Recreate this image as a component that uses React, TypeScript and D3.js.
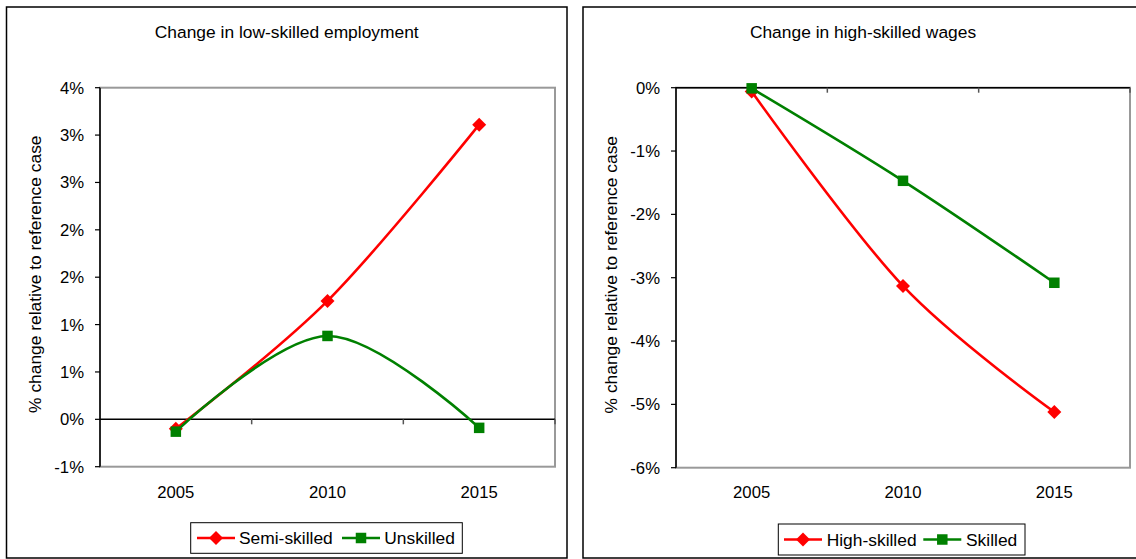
import React from "react";
import * as d3 from "d3";

// Scenario years on the category axis
const years = ["2005", "2010", "2015"];

// Left panel: change in low-skilled employment (% vs reference case)
const semiSkilled = [-0.1, 1.25, 3.11];
const unskilled = [-0.13, 0.88, -0.09];
const lowTicks = [-0.5, 0, 0.5, 1, 1.5, 2, 2.5, 3, 3.5];
const lowTickLabels = ["-1%", "0%", "1%", "1%", "2%", "2%", "3%", "3%", "4%"];

// Right panel: change in high-skilled wages (% vs reference case)
const highSkilled = [-0.06, -3.13, -5.12];
const skilled = [-0.01, -1.47, -3.08];
const wageTicks = [-6, -5, -4, -3, -2, -1, 0];
const wageTickLabels = ["-6%", "-5%", "-4%", "-3%", "-2%", "-1%", "0%"];

const RED = "#ff0000";
const GREEN = "#008000";
const FONT = "'Liberation Sans', Arial, sans-serif";
const FS_TICK = 16.7;
const FS_TEXT = 17.4;
const YLABEL = "% change relative to reference case";

type Series = { name: string; values: number[]; color: string; marker: "diamond" | "square" };

function Marker({ kind, x, y, color }: { kind: string; x: number; y: number; color: string }) {
  if (kind === "diamond") {
    const r = 7;
    return <path d={`M${x},${y - r}L${x + r},${y}L${x},${y + r}L${x - r},${y}Z`} fill={color} />;
  }
  const s = 10.5;
  return <rect x={x - s / 2} y={y - s / 2} width={s} height={s} fill={color} />;
}

function Panel(props: {
  frame: { x: number; y: number; w: number; h: number };
  plot: { x0: number; x1: number; y0: number; y1: number };
  title: string;
  domain: [number, number];
  ticks: number[];
  tickLabels: string[];
  series: Series[];
  legend: { x0: number; x1: number; y0: number; y1: number; items: { lx: number; tx: number }[] };
}) {
  const { frame, plot, title, domain, ticks, tickLabels, series, legend } = props;
  const x = d3.scaleBand<string>().domain(years).range([plot.x0, plot.x1]);
  const y = d3.scaleLinear().domain(domain).range([plot.y1, plot.y0]);
  const cx = (i: number) => (x(years[i]) as number) + x.bandwidth() / 2;
  const line = d3
    .line<number>()
    .x((_, i) => cx(i))
    .y((v) => y(v))
    .curve(d3.curveCatmullRom.alpha(0));
  const zeroY = y(0);
  const bounds = years.slice(1).map((yr) => x(yr) as number).concat([plot.x1]);
  const legY = (legend.y0 + legend.y1) / 2;

  return (
    <g>
      <rect x={frame.x} y={frame.y} width={frame.w} height={frame.h} fill="#fff" stroke="#000" strokeWidth={1.5} />
      <text x={frame.x + frame.w / 2} y={38} textAnchor="middle" fontFamily={FONT} fontSize={FS_TEXT} fill="#000">
        {title}
      </text>
      {/* plot area border */}
      <rect
        x={plot.x0}
        y={plot.y0}
        width={plot.x1 - plot.x0}
        height={plot.y1 - plot.y0}
        fill="#fff"
        stroke="#999"
        strokeWidth={2}
      />
      {/* value axis */}
      <line x1={plot.x0} x2={plot.x0} y1={plot.y0} y2={plot.y1} stroke="#000" strokeWidth={1.5} />
      {ticks.map((t, i) => (
        <g key={t}>
          <line x1={plot.x0 - 5} x2={plot.x0} y1={y(t)} y2={y(t)} stroke="#000" strokeWidth={1.2} />
          <text
            x={plot.x0 - 16}
            y={y(t)}
            dy="0.36em"
            textAnchor="end"
            fontFamily={FONT}
            fontSize={FS_TICK}
            fill="#000"
          >
            {tickLabels[i]}
          </text>
        </g>
      ))}
      {/* category axis crossing at 0% */}
      <line x1={plot.x0} x2={plot.x1} y1={zeroY} y2={zeroY} stroke="#000" strokeWidth={1.5} />
      {bounds.map((b, i) => (
        <line key={i} x1={b} x2={b} y1={zeroY} y2={zeroY + 5} stroke="#555" strokeWidth={1.5} />
      ))}
      {years.map((yr, i) => (
        <text key={yr} x={cx(i)} y={498} textAnchor="middle" fontFamily={FONT} fontSize={FS_TICK} fill="#000">
          {yr}
        </text>
      ))}
      <text
        transform={`translate(${plot.x0 - 59},${(plot.y0 + plot.y1) / 2 - 3}) rotate(-90)`}
        textAnchor="middle"
        fontFamily={FONT}
        fontSize={FS_TEXT}
        fill="#000"
      >
        {YLABEL}
      </text>
      {series.map((s) => (
        <g key={s.name}>
          <path d={line(s.values) as string} fill="none" stroke={s.color} strokeWidth={2.6} />
          {s.values.map((v, i) => (
            <Marker key={i} kind={s.marker} x={cx(i)} y={y(v)} color={s.color} />
          ))}
        </g>
      ))}
      {/* legend */}
      <rect
        x={legend.x0}
        y={legend.y0}
        width={legend.x1 - legend.x0}
        height={legend.y1 - legend.y0}
        fill="#fff"
        stroke="#000"
        strokeWidth={1}
      />
      {series.map((s, i) => {
        const it = legend.items[i];
        return (
          <g key={s.name}>
            <line x1={it.lx} x2={it.lx + 38} y1={legY} y2={legY} stroke={s.color} strokeWidth={2.6} />
            <Marker kind={s.marker} x={it.lx + 19} y={legY} color={s.color} />
            <text x={it.tx} y={legY} dy="0.36em" fontFamily={FONT} fontSize={FS_TEXT} fill="#000">
              {s.name}
            </text>
          </g>
        );
      })}
    </g>
  );
}

export default function App() {
  return (
    <svg
      width={1136}
      height={559}
      style={{ position: "absolute", left: 0, top: 0, display: "block", background: "#fff" }}
    >
      <Panel
        frame={{ x: 6.5, y: 7, w: 560.5, h: 551 }}
        plot={{ x0: 100, x1: 555, y0: 87.7, y1: 466.7 }}
        title="Change in low-skilled employment"
        domain={[-0.5, 3.5]}
        ticks={lowTicks}
        tickLabels={lowTickLabels}
        series={[
          { name: "Semi-skilled", values: semiSkilled, color: RED, marker: "diamond" },
          { name: "Unskilled", values: unskilled, color: GREEN, marker: "square" },
        ]}
        legend={{
          x0: 190.7,
          x1: 462.3,
          y0: 522.7,
          y1: 553.3,
          items: [
            { lx: 197, tx: 239 },
            { lx: 342, tx: 384.3 },
          ],
        }}
      />
      <Panel
        frame={{ x: 583, y: 7, w: 560, h: 551 }}
        plot={{ x0: 676, x1: 1130, y0: 87.7, y1: 467.7 }}
        title="Change in high-skilled wages"
        domain={[-6, 0]}
        ticks={wageTicks}
        tickLabels={wageTickLabels}
        series={[
          { name: "High-skilled", values: highSkilled, color: RED, marker: "diamond" },
          { name: "Skilled", values: skilled, color: GREEN, marker: "square" },
        ]}
        legend={{
          x0: 778.3,
          x1: 1025,
          y0: 524,
          y1: 555,
          items: [
            { lx: 784, tx: 826.7 },
            { lx: 923.3, tx: 966 },
          ],
        }}
      />
    </svg>
  );
}
